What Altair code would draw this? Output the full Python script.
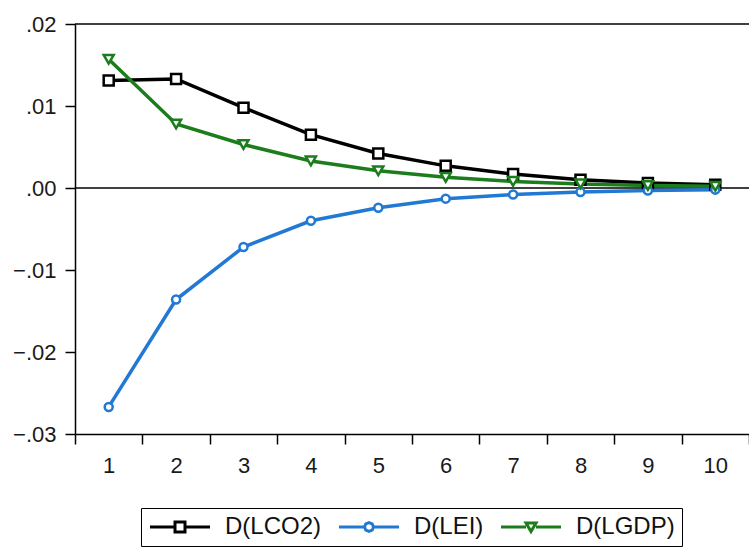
import altair as alt
import pandas as pd

# ---- data ----
horizons = [1, 2, 3, 4, 5, 6, 7, 8, 9, 10]
co2 = [0.0131, 0.0133, 0.0098, 0.0065, 0.0042, 0.0027, 0.0017, 0.0010, 0.0006, 0.0004]
lei = [-0.0267, -0.0136, -0.0072, -0.0040, -0.0024, -0.0013, -0.0008, -0.0005, -0.0003, -0.0002]
gdp = [0.0157, 0.0078, 0.0053, 0.0033, 0.0021, 0.0013, 0.0008, 0.0005, 0.0003, 0.0002]
series_names = ["D(LCO2)", "D(LEI)", "D(LGDP)"]
series_colors = ["#000000", "#2279D4", "#1B7D1B"]
y_ticks = [-0.03, -0.02, -0.01, 0.0, 0.01, 0.02]
zero_line = [0.0]
top_frame = [0.02]

rows = []
for name, vals in zip(series_names, [co2, lei, gdp]):
    for h, v in zip(horizons, vals):
        rows.append({"h": h, "series": name, "value": v})
df = pd.DataFrame(rows)

FONT = "Liberation Sans"

x_enc = alt.X(
    "h:O",
    title=None,
    scale=alt.Scale(type="band", paddingInner=0, paddingOuter=0),
    axis=alt.Axis(tickBand="extent", labelAngle=0, labelPadding=11, tickSize=10),
)
y_enc = alt.Y(
    "value:Q",
    title=None,
    scale=alt.Scale(domain=[-0.03, 0.02], nice=False, zero=False),
    axis=alt.Axis(
        values=y_ticks,
        labelExpr="replace(format(datum.value, '.2f'), '0.', '.')",
        labelPadding=9,
        tickSize=10,
    ),
)
color_scale = alt.Scale(domain=series_names, range=series_colors)

base = alt.Chart(df)

marker_shapes = ["square", "circle", "triangle-down"]
marker_sizes = [100, 64, 100]
line_layers = []
point_layers = []
for name, col, shp, sz in zip(series_names, series_colors, marker_shapes, marker_sizes):
    sub = base.transform_filter(alt.datum.series == name)
    line_layers.append(sub.mark_line(strokeWidth=3.5, color=col).encode(x=x_enc, y=y_enc))
    point_layers.append(
        sub.mark_point(shape=shp, size=sz, filled=True, fill="white", stroke=col, strokeWidth=2.5, opacity=1)
        .encode(x=x_enc, y=y_enc)
    )

# legend-only layer: symbols are a line segment with the marker in the middle
legend_paths = [
    "M-1,0H1.5M2.5,0H5M1.5,-0.5H2.5V0.5H1.5Z",
    "M-1,0H1.55M2.45,0H5M1.55,0L1.68,-0.32L2,-0.45L2.32,-0.32L2.45,0L2.32,0.32L2,0.45L1.68,0.32Z",
    "M-1,0H1.5M2.5,0H5M1.5,-0.4H2.5L2,0.45Z",
]
leg = alt.Legend(
    title=None,
    orient="none",
    legendX=66,
    legendY=484,
    direction="horizontal",
    strokeColor="black",
    fillColor="white",
    padding=7,
    labelFont=FONT,
    labelFontSize=24,
    labelColor="#111111",
    labelOffset=53,
    columnPadding=11,
    symbolStrokeWidth=3,
    symbolSize=400,
    symbolOpacity=1,
)
legend_layer = base.mark_point(filled=False, opacity=0, size=400, strokeWidth=3).encode(
    x=x_enc,
    y=y_enc,
    color=alt.Color("series:N", scale=color_scale, legend=leg),
    shape=alt.Shape("series:N", scale=alt.Scale(domain=series_names, range=legend_paths), legend=leg),
)

zero_rule = alt.Chart(pd.DataFrame({"value": zero_line})).mark_rule(color="black", strokeWidth=1.5).encode(y=y_enc)
top_rule = alt.Chart(pd.DataFrame({"value": top_frame})).mark_rule(color="black", strokeWidth=1.5).encode(y=y_enc)

chart = (
    alt.layer(zero_rule, top_rule, *line_layers, *point_layers, legend_layer)
    .properties(
        width=674,
        height=410,
        autosize=alt.AutoSizeParams(type="none"),
        padding={"left": 75, "top": 24, "right": 0, "bottom": 113},
        background="white",
    )
    .configure_view(stroke=None)
    .configure_axis(
        grid=False,
        domainColor="black",
        domainWidth=1.5,
        tickColor="black",
        tickWidth=1.5,
        labelFont=FONT,
        labelFontSize=22,
        labelColor="#1a1a1a",
    )
)

chart.save("out.html", embed_options={"renderer": "svg", "actions": False})
